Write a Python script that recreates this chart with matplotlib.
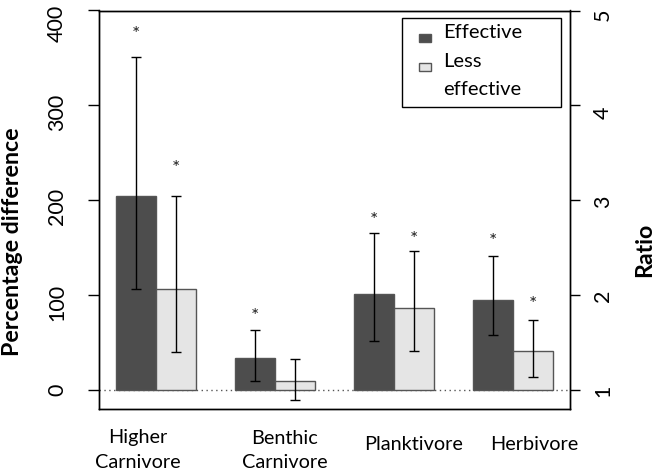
import matplotlib
matplotlib.use("Agg")
import matplotlib.pyplot as plt
from matplotlib.patches import Rectangle
import matplotlib.transforms as mtransforms
import numpy as np

plt.rcParams['font.family'] = ['Lato', 'DejaVu Sans']

# ---- data ----
categories = ["Higher\nCarnivore", "Benthic\nCarnivore", "Planktivore", "Herbivore"]
series_names = ["Effective", "Less\neffective"]
effective = [205, 34, 101, 95]
effective_lo = [106, 10, 52, 58]
effective_hi = [351, 63, 166, 141]
less = [106, 9, 86, 41]
less_lo = [40, -10, 41, 14]
less_hi = [205, 33, 146, 74]
effective_star = [375, 78, 179, 157]
less_star = [234, None, 159, 90]
left_ticks = [0, 100, 200, 300, 400]
right_ticks = [1, 2, 3, 4, 5]

# ---- layout ----
W, H = 656, 472
fig = plt.figure(figsize=(W / 100, H / 100), dpi=100)
ax = fig.add_axes([99 / W, 1 - 409 / H, (570 - 99) / W, (409 - 10.5) / H])

col_dark = "#4d4d4d"
col_light = "#e5e5e5"
edge = "#555555"

n = len(categories)
group_start = 1 + 3 * np.arange(n)
x_eff = group_start + 0.5
x_less = group_start + 1.5

ax.axhline(0, color="#555555", lw=1, ls=(0, (1, 2.5)), zorder=1)

ax.bar(x_eff, effective, width=1.0, color=col_dark, edgecolor=edge, lw=1, zorder=2)
ax.bar(x_less, less, width=1.0, color=col_light, edgecolor=edge, lw=1, zorder=2)

eff = np.array(effective, float)
ls_ = np.array(less, float)
ax.errorbar(x_eff, eff, yerr=[eff - np.array(effective_lo), np.array(effective_hi) - eff],
            fmt="none", ecolor="black", elinewidth=1, capsize=3.6, capthick=1, zorder=3)
ax.errorbar(x_less, ls_, yerr=[ls_ - np.array(less_lo), np.array(less_hi) - ls_],
            fmt="none", ecolor="black", elinewidth=1, capsize=3.6, capthick=1, zorder=3)

for xs, stars in ((x_eff, effective_star), (x_less, less_star)):
    for x, s in zip(xs, stars):
        if s is not None:
            ax.text(x, s, "*", ha="center", va="center", fontsize=14, color="#222222")

ax.set_xlim(0.56, 12.44)
ax.set_ylim(-20, 400)
ax.set_xticks([])
ax.set_yticks(left_ticks)
ax.set_yticklabels([str(t) for t in left_ticks], rotation=90, va="center", fontsize=15.5)
ax.tick_params(axis="y", direction="out", length=8, width=1, pad=15, colors="black")
for sp in ax.spines.values():
    sp.set_linewidth(1)
    sp.set_color("black")

# per-label vertical nudges (pixels, downward) as in the reference
left_shift = [0, 7, 6, 7, 13]
for lab, dy in zip(ax.get_yticklabels(), left_shift):
    lab.set_transform(lab.get_transform() + mtransforms.ScaledTranslation(0, -dy / 100, fig.dpi_scale_trans))

ax2 = ax.twinx()
ax2.set_ylim(1 + (-20) / 100, 1 + 400 / 100)
ax2.set_yticks(right_ticks)
ax2.set_yticklabels([str(t) for t in right_ticks], rotation=90, va="center", fontsize=15.5)
ax2.tick_params(axis="y", direction="out", length=7.5, width=1, pad=9, colors="black")
for sp in ax2.spines.values():
    sp.set_linewidth(1)
right_shift = [1, 1, 1, 7, 4]
for lab, dy in zip(ax2.get_yticklabels(), right_shift):
    lab.set_transform(lab.get_transform() + mtransforms.ScaledTranslation(0, -dy / 100, fig.dpi_scale_trans))

# category labels
label_x = [1.55, 5.25, 8.5, 11.55]
trans = mtransforms.blended_transform_factory(ax.transData, fig.transFigure)
for lx, lab in zip(label_x, categories):
    ypix = 450 if "\n" in lab else 445
    ax.text(lx, 1 - ypix / H, lab, transform=trans, ha="center", va="center",
            fontsize=14.3, linespacing=1.5, clip_on=False)

fig.text(13 / W, 1 - 241.5 / H, "Percentage difference", rotation=90, ha="center",
         va="center", fontsize=16.7, fontweight="bold")
fig.text(645 / W, 1 - 250 / H, "Ratio", rotation=90, ha="center", va="center",
         fontsize=16.7, fontweight="bold")

# legend (manual)
ax.add_patch(Rectangle((0.643, 0.757), 0.981 - 0.643, 0.982 - 0.757, transform=ax.transAxes,
                       facecolor="white", edgecolor="black", lw=1, zorder=5))
ax.add_patch(Rectangle((0.679, 0.920), 0.025, 0.022, transform=ax.transAxes,
                       facecolor=col_dark, edgecolor=edge, lw=1, zorder=6))
ax.add_patch(Rectangle((0.679, 0.847), 0.025, 0.022, transform=ax.transAxes,
                       facecolor=col_light, edgecolor=edge, lw=1, zorder=6))
baselines = [0.930, 0.858, 0.787]
lines = []
for name in series_names:
    lines.extend(name.split("\n"))
for y, t in zip(baselines, lines):
    ax.text(0.730, y, t, transform=ax.transAxes, ha="left", va="baseline",
            fontsize=14.5, zorder=7)

fig.savefig("out.png", dpi=100)
